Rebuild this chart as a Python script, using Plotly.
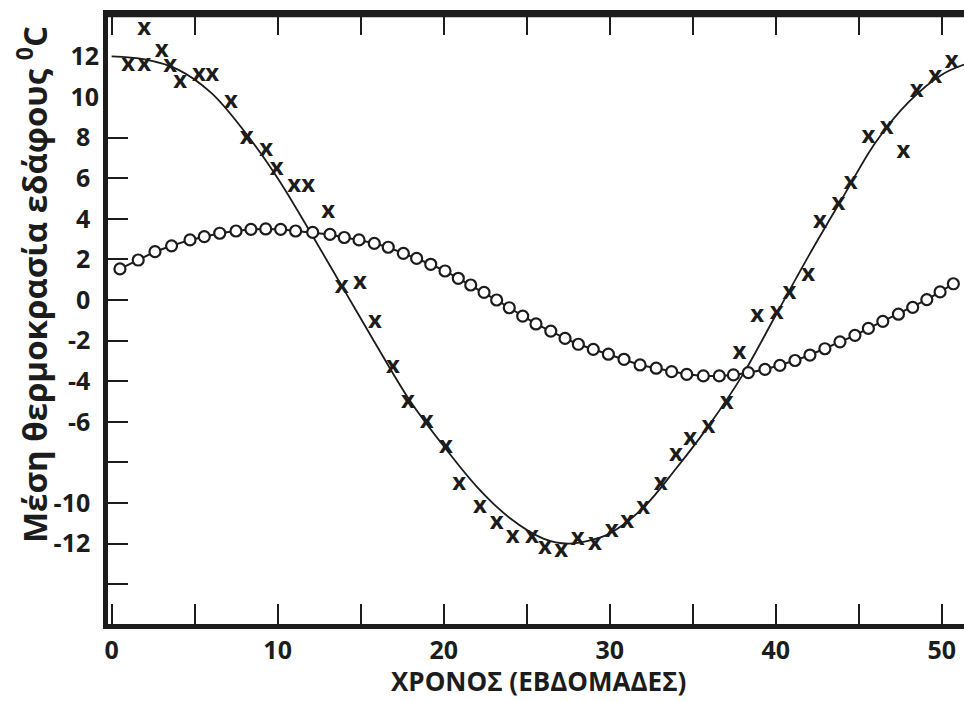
import plotly.graph_objects as go

# ---- data ----
cross_x = [1.96, 1.00, 1.96, 3.01, 3.53, 4.13, 5.26, 6.06, 7.19, 8.13, 9.31, 9.94, 11.00, 11.84,
           13.05, 13.86, 14.96, 15.86, 16.94, 17.85, 18.98, 20.14, 20.94, 22.19, 23.19, 24.16,
           25.32, 26.10, 27.07, 28.07, 29.11, 30.12, 31.06, 32.02, 33.07, 33.99, 34.84, 35.94,
           37.05, 37.81, 38.89, 40.06, 40.82, 41.96, 42.67, 43.77, 44.52, 45.58, 46.69, 47.69,
           48.49, 49.60, 50.60]
cross_y = [13.35, 11.58, 11.58, 12.27, 11.54, 10.75, 11.08, 11.08, 9.77, 8.00, 7.39, 6.45, 5.63, 5.63,
           4.35, 0.66, 0.85, -1.07, -3.30, -5.02, -6.00, -7.23, -9.06, -10.21, -11.00, -11.69,
           -11.69, -12.23, -12.35, -11.79, -12.02, -11.36, -10.92, -10.23, -9.06, -7.64, -6.86, -6.24,
           -5.09, -2.63, -0.77, -0.66, 0.36, 1.21, 3.86, 4.73, 5.78, 8.01, 8.49, 7.31,
           10.31, 10.97, 11.74]

fit_x = [0, 2, 4, 6, 8, 10, 12, 14, 16, 18, 20, 22, 24, 26, 27.5, 29, 30, 32, 34, 36, 38, 40,
         42, 44, 46, 48, 50, 51.35]
fit_y = [12.0, 11.85, 11.35, 10.2, 8.3, 6.0, 3.3, 0.5, -2.3, -5.0, -7.2, -9.2, -10.75, -11.75, -12.0,
         -11.8, -11.5, -10.25, -8.3, -6.15, -3.7, -0.75, 2.2, 5.0, 7.75, 9.75, 11.1, 11.6]

circle_x = [0.50, 1.60, 2.61, 3.61, 4.72, 5.58, 6.51, 7.49, 8.39, 9.28, 10.18, 11.08, 12.11, 13.15,
            14.01, 14.90, 15.82, 16.66, 17.57, 18.37, 19.22, 20.08, 20.88, 21.63, 22.43, 23.19,
            23.95, 24.76, 25.56, 26.45, 27.31, 28.11, 29.01, 29.92, 30.86, 31.83, 32.80, 33.73,
            34.64, 35.64, 36.60, 37.45, 38.35, 39.35, 40.25, 41.16, 42.06, 42.96, 43.87, 44.77,
            45.58, 46.45, 47.39, 48.25, 49.10, 49.90, 50.70]
circle_y = [1.53, 1.97, 2.38, 2.67, 2.96, 3.12, 3.29, 3.40, 3.48, 3.50, 3.48, 3.40, 3.33, 3.23,
            3.08, 2.96, 2.79, 2.60, 2.30, 2.05, 1.76, 1.43, 1.07, 0.74, 0.38, 0.00,
            -0.38, -0.79, -1.18, -1.53, -1.89, -2.18, -2.43, -2.67, -2.92, -3.20, -3.36, -3.53,
            -3.66, -3.74, -3.74, -3.69, -3.58, -3.42, -3.22, -2.98, -2.71, -2.40, -2.06, -1.74,
            -1.40, -1.05, -0.70, -0.36, 0.02, 0.40, 0.80]

x_tick_vals = [0, 5, 10, 15, 20, 25, 30, 35, 40, 45, 50]
x_tick_text = ["0", "", "10", "", "20", "", "30", "", "40", "", "50"]
y_tick_vals = [-14, -12, -10, -8, -6, -4, -2, 0, 2, 4, 6, 8]
y_tick_text = ["", "-12", "-10", "", "-6", "-4", "-2", "0", "2", "4", "6", "8"]
y_extra_vals = [10, 12]
y_extra_text = ["10", "12"]

x_title = "ΧΡΟΝΟΣ (ΕΒΔΟΜΑΔΕΣ)"
y_title = "Μέση θερμοκρασία εδάφους <sup>0</sup>C"

INK = "#1c1c1c"
FONT = "Open Sans"
X_RANGE = [-0.22, 51.34]
Y_RANGE = [-15.96, 14.04]
W, H = 964, 701
ML, MR, MT, MB = 108, 0, 15, 77
PW, PH = W - ML - MR, H - MT - MB

fig = go.Figure()
fig.add_trace(go.Scatter(x=fit_x, y=fit_y, mode="lines",
                         line=dict(color=INK, width=1.8, shape="spline", smoothing=1.0),
                         hoverinfo="skip"))
fig.add_trace(go.Scatter(x=circle_x, y=circle_y, mode="lines+markers",
                         line=dict(color=INK, width=2),
                         marker=dict(symbol="circle", size=11, color="white",
                                     line=dict(color=INK, width=2.2))))
fig.add_trace(go.Scatter(x=cross_x, y=cross_y, mode="text", text=["x"] * len(cross_x),
                         textposition="middle center",
                         textfont=dict(family=FONT, size=24, color=INK, weight="bold")))
fig.add_trace(go.Scatter(x=[None], y=[None], yaxis="y2", showlegend=False))

tickfont = dict(family=FONT, size=25, color=INK, weight="bold")

fig.update_layout(
    width=W, height=H,
    margin=dict(l=ML, r=MR, t=MT, b=MB),
    paper_bgcolor="white", plot_bgcolor="white",
    showlegend=False,
    xaxis=dict(range=X_RANGE, tickvals=x_tick_vals, ticktext=x_tick_text,
               ticks="inside", ticklen=20, tickwidth=2, tickcolor=INK,
               showline=True, linewidth=4.5, linecolor=INK, mirror="ticks",
               showgrid=False, zeroline=False, tickfont=tickfont, ticklabelstandoff=0),
    yaxis=dict(range=Y_RANGE, tickvals=y_tick_vals, ticktext=y_tick_text,
               ticks="inside", ticklen=20, tickwidth=2, tickcolor=INK,
               showline=True, linewidth=4.5, linecolor=INK, mirror=False,
               showgrid=False, zeroline=False, tickfont=tickfont, ticklabelstandoff=8),
    yaxis2=dict(range=Y_RANGE, overlaying="y", side="left", tickvals=y_extra_vals,
                ticktext=y_extra_text, ticks="", showline=False, showgrid=False,
                zeroline=False, tickfont=tickfont, ticklabelstandoff=8),
    shapes=[dict(type="line", xref="paper", yref="paper", x0=0, x1=1, y0=1, y1=1,
                 line=dict(color=INK, width=4.5))],
    annotations=[
        dict(text=x_title, xref="paper", yref="paper", x=(538 - ML) / PW, y=-(701 - (H - MB)) / PH,
             showarrow=False, xanchor="center", yanchor="bottom",
             font=dict(family=FONT, size=26, color=INK, weight="bold")),
        dict(text=y_title, xref="paper", yref="paper", x=-(ML - 32) / PW, y=(H - MB - 285) / PH,
             showarrow=False, xanchor="center", yanchor="middle", textangle=-90,
             font=dict(family=FONT, size=33, color=INK, weight="bold")),
    ],
)

fig.write_html("out.html")
